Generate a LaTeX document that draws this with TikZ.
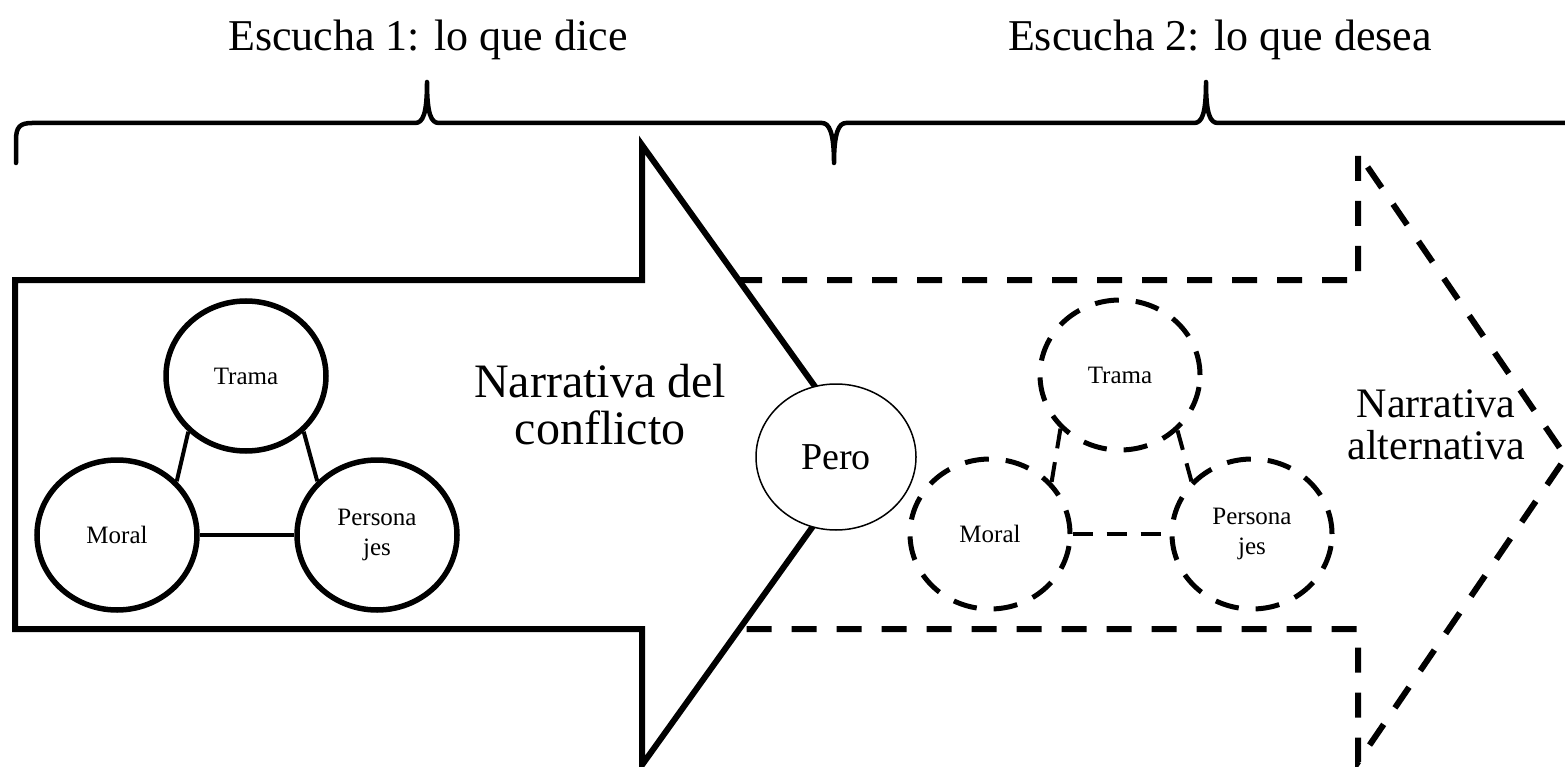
\documentclass[tikz,border=0pt]{standalone}
\usepackage{fontspec}
\setmainfont{Liberation Serif}
\usetikzlibrary{shapes.geometric}
\begin{document}
\begin{tikzpicture}[x=1pt,y=-1pt,
  solidcirc/.style={ellipse, draw, line width=5.5pt, minimum width=160pt, minimum height=150pt, inner sep=0pt, font=\fontsize{25}{30}\selectfont, align=center},
  dashcirc/.style={solidcirc, line width=5pt, dash pattern=on 24pt off 17pt},
  link/.style={line width=4pt},
  dlink/.style={line width=4pt, dash pattern=on 20pt off 14pt},
  bigarrow/.style={line width=6pt, line join=miter},
  dasharrow/.style={line width=6pt, dash pattern=on 25pt off 20pt},
  bracestyle/.style={line width=4.5pt, line join=round, line cap=round},
  title/.style={font=\fontsize{44}{50}\selectfont, inner sep=0pt},
  bigtext/.style={align=center, inner sep=0pt},
]
\useasboundingbox (0,0) rectangle (1565,767);
\fill[white] (0,0) rectangle (1565,767);

% titles
\node[title] (t1) at (428,40) {Escucha 1: lo que dice};
\node[title] (t2) at (1220,40) {Escucha 2: lo que desea};

% braces
\draw[bracestyle] (16,163) -- (16,140) .. controls (16,127) and (20,123) .. (32,123) -- (415,123)
  .. controls (423,123) and (427,114) .. (427,82)
  .. controls (427,114) and (431,123) .. (439,123) -- (822,123)
  .. controls (829,123) and (834,132) .. (834,163)
  .. controls (834,132) and (839,123) .. (846,123) -- (1194,123)
  .. controls (1202,123) and (1206,114) .. (1206,82)
  .. controls (1206,114) and (1210,123) .. (1218,123) -- (1570,123);

% dashed arrow
\draw[dasharrow] (737,280) -- (1358,280) -- (1358,153) -- (1566,457) -- (1358,762) -- (1358,629) -- (736,629);

% solid arrow
\draw[bigarrow, fill=white] (15,280) -- (642,280) -- (642,145) -- (864,455) -- (642,765) -- (642,629) -- (15,629) -- cycle;

% left circles
\node[solidcirc] (trama) at (246,376) {Trama};
\node[solidcirc] (moral) at (117,535) {Moral};
\node[solidcirc] (pers) at (377,535) {Persona\\jes};
\draw[link] (trama.224) -- (moral.42);
\draw[link] (trama.316) -- (pers.138);
\draw[link] (moral) -- (pers);

% texts
\node[bigtext, font=\fontsize{48}{47}\selectfont] (narr1) at (600,405) {Narrativa del\\conflicto};
\node[ellipse, draw, line width=1.5pt, fill=white, minimum width=160pt, minimum height=146pt, inner sep=0pt, font=\fontsize{38}{40}\selectfont] (pero) at (836,457) {Pero};
\node[bigtext, font=\fontsize{42}{42}\selectfont] (narr2) at (1436,425) {Narrativa\\alternativa};

% right dashed circles
\node[dashcirc] (dtrama) at (1120,375) {Trama};
\node[dashcirc] (dmoral) at (990,534) {Moral};
\node[dashcirc] (dpers) at (1252,534) {Persona\\jes};
\draw[dlink] (dtrama.222) -- (dmoral.40);
\draw[dlink] (dtrama.316) -- (dpers.139);
\draw[dlink] (dmoral) -- (dpers);
\end{tikzpicture}
\end{document}
